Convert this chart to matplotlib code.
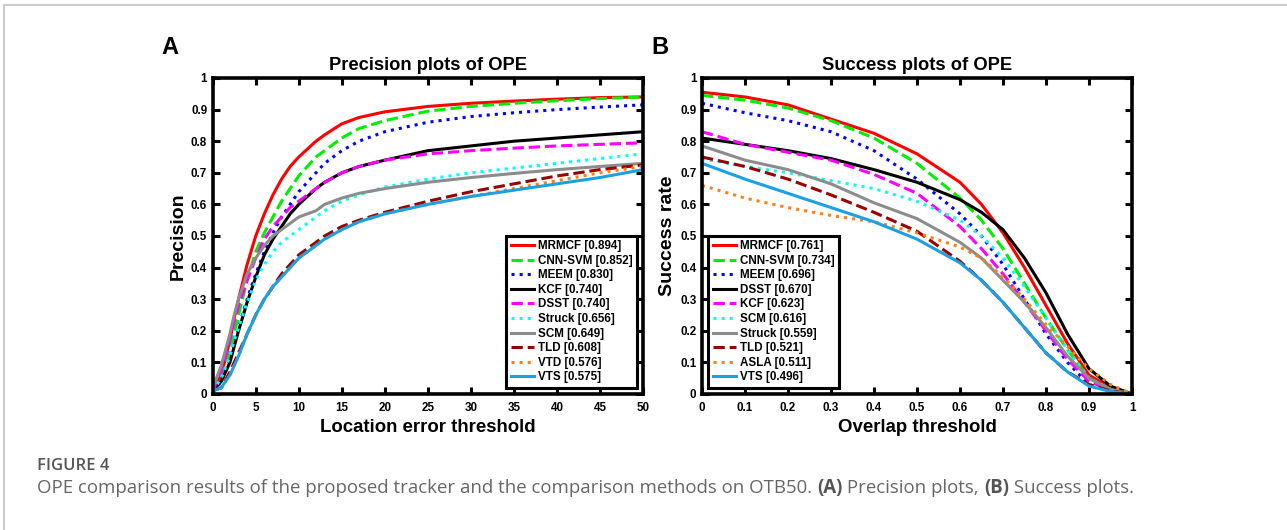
import numpy as np
import matplotlib.pyplot as plt
from matplotlib.lines import Line2D

plt.rcParams['font.family'] = ['Liberation Sans', 'DejaVu Sans']

# ---- Precision plots (location error threshold) ----
prec_x = [0, 1, 2, 2.5, 3, 4, 5, 6, 7, 8, 9, 10, 12, 13, 15, 17, 20, 25, 30, 35, 40, 45, 50]
prec = {
    'MRMCF [0.894]':   [0.01, 0.06, 0.17, 0.24, 0.30, 0.41, 0.50, 0.57, 0.63, 0.68, 0.72, 0.75, 0.80, 0.82, 0.855, 0.875, 0.893, 0.910, 0.920, 0.927, 0.933, 0.938, 0.940],
    'CNN-SVM [0.852]': [0.01, 0.05, 0.13, 0.19, 0.25, 0.36, 0.45, 0.51, 0.56, 0.61, 0.65, 0.69, 0.75, 0.77, 0.81, 0.84, 0.865, 0.895, 0.910, 0.920, 0.928, 0.935, 0.940],
    'MEEM [0.830]':    [0.01, 0.04, 0.11, 0.16, 0.21, 0.30, 0.38, 0.45, 0.51, 0.56, 0.60, 0.64, 0.70, 0.73, 0.77, 0.80, 0.830, 0.860, 0.878, 0.890, 0.900, 0.908, 0.915],
    'KCF [0.740]':     [0.01, 0.04, 0.10, 0.15, 0.20, 0.29, 0.37, 0.44, 0.49, 0.53, 0.57, 0.60, 0.65, 0.67, 0.70, 0.72, 0.740, 0.770, 0.785, 0.800, 0.810, 0.820, 0.830],
    'DSST [0.740]':    [0.01, 0.07, 0.17, 0.23, 0.28, 0.36, 0.43, 0.49, 0.53, 0.56, 0.59, 0.61, 0.65, 0.67, 0.70, 0.72, 0.740, 0.760, 0.770, 0.778, 0.785, 0.790, 0.795],
    'Struck [0.656]':  [0.01, 0.05, 0.12, 0.17, 0.21, 0.29, 0.36, 0.41, 0.45, 0.48, 0.50, 0.52, 0.56, 0.58, 0.61, 0.63, 0.655, 0.680, 0.700, 0.715, 0.730, 0.745, 0.760],
    'SCM [0.649]':     [0.02, 0.09, 0.19, 0.25, 0.30, 0.38, 0.43, 0.47, 0.50, 0.52, 0.54, 0.56, 0.58, 0.60, 0.62, 0.635, 0.650, 0.670, 0.685, 0.698, 0.710, 0.720, 0.730],
    'TLD [0.608]':     [0.01, 0.02, 0.07, 0.10, 0.13, 0.19, 0.25, 0.30, 0.34, 0.38, 0.41, 0.44, 0.48, 0.50, 0.53, 0.55, 0.575, 0.610, 0.640, 0.665, 0.690, 0.710, 0.725],
    'VTD [0.576]':     [0.01, 0.02, 0.06, 0.09, 0.12, 0.19, 0.25, 0.30, 0.34, 0.37, 0.40, 0.43, 0.47, 0.49, 0.52, 0.545, 0.570, 0.600, 0.625, 0.650, 0.675, 0.700, 0.720],
    'VTS [0.575]':     [0.01, 0.02, 0.06, 0.09, 0.12, 0.19, 0.25, 0.30, 0.34, 0.37, 0.40, 0.43, 0.47, 0.49, 0.52, 0.545, 0.570, 0.600, 0.625, 0.645, 0.665, 0.685, 0.710],
}
prec_styles = [
    ('#ff0000', '-'), ('#00ee00', '--'), ('#0000ff', ':'), ('#000000', '-'), ('#ff00ff', '--'),
    ('#00ffff', ':'), ('#8c8c8c', '-'), ('#990000', '--'), ('#ff7f0e', ':'), ('#1ba1e2', '-'),
]

# ---- Success plots (overlap threshold) ----
succ_x = [0, 0.1, 0.2, 0.3, 0.4, 0.5, 0.6, 0.65, 0.7, 0.75, 0.8, 0.85, 0.9, 0.95, 1.0]
succ = {
    'MRMCF [0.761]':   [0.955, 0.940, 0.915, 0.870, 0.825, 0.760, 0.670, 0.600, 0.510, 0.400, 0.280, 0.160, 0.060, 0.020, 0.0],
    'CNN-SVM [0.734]': [0.945, 0.930, 0.905, 0.865, 0.810, 0.730, 0.620, 0.550, 0.460, 0.350, 0.240, 0.140, 0.050, 0.015, 0.0],
    'MEEM [0.696]':    [0.920, 0.890, 0.865, 0.830, 0.770, 0.680, 0.570, 0.500, 0.410, 0.300, 0.190, 0.100, 0.030, 0.010, 0.0],
    'DSST [0.670]':    [0.810, 0.790, 0.770, 0.745, 0.710, 0.670, 0.615, 0.575, 0.520, 0.430, 0.320, 0.190, 0.080, 0.025, 0.0],
    'KCF [0.623]':     [0.830, 0.790, 0.765, 0.740, 0.695, 0.635, 0.530, 0.460, 0.380, 0.290, 0.200, 0.110, 0.040, 0.012, 0.0],
    'SCM [0.616]':     [0.745, 0.720, 0.700, 0.675, 0.650, 0.610, 0.550, 0.500, 0.430, 0.340, 0.240, 0.140, 0.050, 0.015, 0.0],
    'Struck [0.559]':  [0.785, 0.740, 0.710, 0.665, 0.605, 0.555, 0.480, 0.430, 0.360, 0.290, 0.210, 0.120, 0.050, 0.015, 0.0],
    'TLD [0.521]':     [0.750, 0.720, 0.680, 0.630, 0.575, 0.515, 0.420, 0.360, 0.290, 0.210, 0.130, 0.070, 0.030, 0.010, 0.0],
    'ASLA [0.511]':    [0.660, 0.620, 0.590, 0.565, 0.545, 0.510, 0.465, 0.430, 0.370, 0.300, 0.220, 0.150, 0.080, 0.030, 0.0],
    'VTS [0.496]':     [0.730, 0.680, 0.635, 0.590, 0.545, 0.490, 0.415, 0.360, 0.290, 0.210, 0.130, 0.070, 0.025, 0.008, 0.0],
}
succ_styles = [
    ('#ff0000', '-'), ('#00ee00', '--'), ('#0000ff', ':'), ('#000000', '-'), ('#ff00ff', '--'),
    ('#00ffff', ':'), ('#8c8c8c', '-'), ('#990000', '--'), ('#ff7f0e', ':'), ('#1ba1e2', '-'),
]

caption_parts = [
    ('OPE comparison results of the proposed tracker and the comparison methods on OTB50. ', 'normal'),
    ('(A)', 'bold'),
    (' Precision plots, ', 'normal'),
    ('(B)', 'bold'),
    (' Success plots.', 'normal'),
]

W, H = 1287, 530
fig = plt.figure(figsize=(W / 100, H / 100), dpi=100)

# frame lines of the page (gray)
fig.add_artist(Line2D([4/W, 1], [1-5/H, 1-5/H], color='#cccccc', lw=1.5))
fig.add_artist(Line2D([4/W, 4/W], [0, 1-5/H], color='#cccccc', lw=1.5))

ax1 = fig.add_axes([212.7/W, 1-394/H, 430.3/W, 316/H])
ax2 = fig.add_axes([702/W, 1-394/H, 430/W, 316/H])


def style_axes(ax, xlim, xticks, xticklabels, xlabel, ylabel, title):
    ax.set_xlim(*xlim)
    ax.set_ylim(0, 1)
    ax.set_xticks(xticks)
    ax.set_xticklabels(xticklabels)
    ax.set_yticks(np.arange(0, 1.01, 0.1))
    ax.set_yticklabels(['0', '0.1', '0.2', '0.3', '0.4', '0.5', '0.6', '0.7', '0.8', '0.9', '1'])
    ax.tick_params(direction='in', top=True, right=True, length=5, width=2.2, labelsize=8.4)
    ax.tick_params(axis='x', pad=6)
    ax.tick_params(axis='y', pad=4)
    for lab in ax.get_xticklabels() + ax.get_yticklabels():
        lab.set_fontweight('bold')
    for sp in ax.spines.values():
        sp.set_linewidth(2.6)
    ax.set_xlabel(xlabel, fontsize=13.4, fontweight='bold', labelpad=3)
    ax.set_ylabel(ylabel, fontsize=14, fontweight='bold', labelpad=3)
    ax.set_title(title, fontsize=13.2, fontweight='bold', pad=6)


def style_legend(leg):
    leg.get_frame().set_linewidth(2.2)
    for t in leg.get_texts():
        t.set_fontweight('bold')


leg_kw = dict(fontsize=8.4, handlelength=2.0, handletextpad=0.3, labelspacing=0.22,
              borderpad=0.4, borderaxespad=0, fancybox=False, edgecolor='black', framealpha=1)

for (name, vals), (c, ls) in zip(prec.items(), prec_styles):
    ax1.plot(prec_x, vals, color=c, ls=ls, lw=2.2, label=name)
style_axes(ax1, (0, 50), np.arange(0, 51, 5), [str(v) for v in range(0, 51, 5)],
           'Location error threshold', 'Precision', 'Precision plots of OPE')
style_legend(ax1.legend(loc='lower right', bbox_to_anchor=(1 - 6/430, 6/316), **leg_kw))

for (name, vals), (c, ls) in zip(succ.items(), succ_styles):
    ax2.plot(succ_x, vals, color=c, ls=ls, lw=2.2, label=name)
style_axes(ax2, (0, 1), np.arange(0, 1.01, 0.1),
           ['0', '0.1', '0.2', '0.3', '0.4', '0.5', '0.6', '0.7', '0.8', '0.9', '1'],
           'Overlap threshold', 'Success rate', 'Success plots of OPE')
style_legend(ax2.legend(loc='lower left', bbox_to_anchor=(6/430, 6/316), **leg_kw))

# panel letters
fig.text(170/W, 1-47/H, 'A', fontsize=17, fontweight='bold', ha='center', va='center')
fig.text(660/W, 1-47/H, 'B', fontsize=17, fontweight='bold', ha='center', va='center')

# caption
cap_font = ['Open Sans', 'DejaVu Sans']
fig.text(37/W, 1-466/H, 'FIGURE 4', fontsize=12, color='#555555',
         family=cap_font, fontweight='semibold', ha='left', va='center')
renderer = fig.canvas.get_renderer()
x_px = 37
for txt, wt in caption_parts:
    t = fig.text(x_px/W, 1-488/H, txt, fontsize=13.4, color='#555555' if wt == 'bold' else '#666666',
                 family=cap_font, fontweight=wt, ha='left', va='center')
    x_px += t.get_window_extent(renderer).width

fig.savefig('out.png', dpi=100)
